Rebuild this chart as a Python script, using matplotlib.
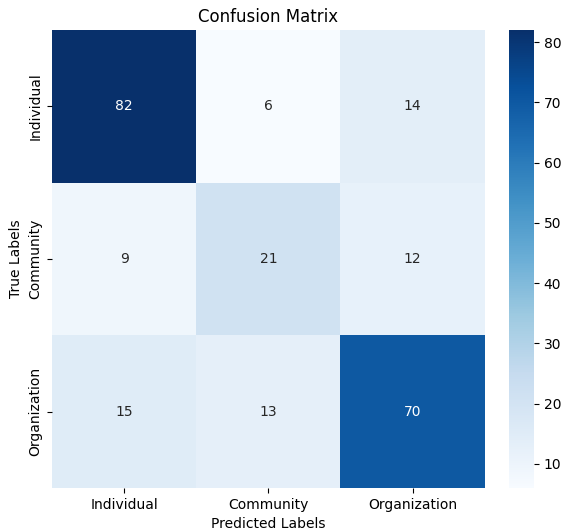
import matplotlib
matplotlib.use("Agg")
import matplotlib.pyplot as plt
import seaborn as sns
import numpy as np

labels = ["Individual", "Community", "Organization"]
row_individual = [82, 6, 14]
row_community = [9, 21, 12]
row_organization = [15, 13, 70]

cm = np.array([row_individual, row_community, row_organization])

fig = plt.figure(figsize=(5.62, 5.31), dpi=100)
ax = fig.add_axes([0.0925, 0.081, 0.770, 0.8625])
cax = fig.add_axes([0.906, 0.081, 0.044, 0.8625])
sns.heatmap(cm, annot=True, fmt="d", cmap="Blues", xticklabels=labels,
            yticklabels=labels, ax=ax, cbar_ax=cax)
ax.set_title("Confusion Matrix", fontsize=12)
ax.set_xlabel("Predicted Labels", fontsize=10)
ax.set_ylabel("True Labels", fontsize=10)
fig.savefig("out.png", dpi=100)
